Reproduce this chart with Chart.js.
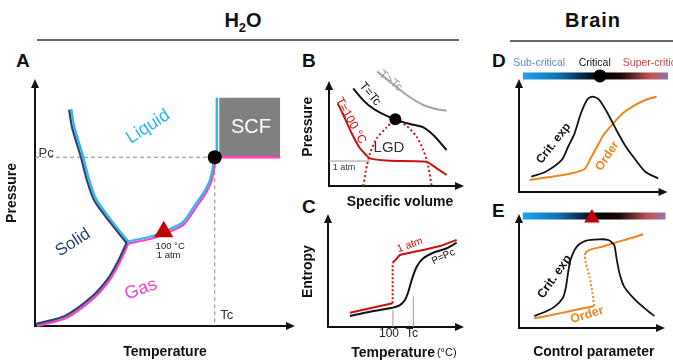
<!DOCTYPE html>
<html>
<head>
<meta charset="utf-8">
<script src="https://cdn.jsdelivr.net/npm/chart.js@4"></script>
<style>
  body { margin: 0; width: 673px; height: 363px; position: relative; overflow: hidden; background: #fff;
         font-family: Arial, "Liberation Sans", sans-serif; }
  canvas { position: absolute; }
  .head { position: absolute; font-weight: bold; font-size: 20px; line-height: 20px; text-align: center; color: #111; }
  .rule { position: absolute; height: 2px; background: #666; }
  .tag { position: absolute; font-weight: bold; font-size: 19px; line-height: 19px; color: #111; }
</style>
</head>
<body>
<div class="head" style="left:193px;top:10px;width:100px">H<sub style="font-size:13px;line-height:0">2</sub>O</div>
<div class="rule" style="left:37px;top:39px;width:422px"></div>
<div class="head" style="left:543px;top:10px;width:100px;letter-spacing:1px">Brain</div>
<div class="rule" style="left:510px;top:40px;width:163px"></div>
<div class="tag" style="left:16px;top:51px">A</div>
<div class="tag" style="left:302px;top:51px">B</div>
<div class="tag" style="left:302px;top:197px">C</div>
<div class="tag" style="left:492px;top:51px">D</div>
<div class="tag" style="left:492px;top:201px">E</div>

<canvas id="chartA" width="305" height="318" style="left:0;top:45px"></canvas>
<canvas id="chartB" width="180" height="165" style="left:290px;top:45px"></canvas>
<canvas id="chartC" width="180" height="165" style="left:290px;top:198px"></canvas>
<canvas id="chartD" width="203" height="160" style="left:470px;top:45px"></canvas>
<canvas id="chartE" width="203" height="165" style="left:470px;top:198px"></canvas>

<script>
// A: phase diagram of water (temperature / pressure, arbitrary 0..100)
var solidLiqT = [13.6, 14.7, 18.2, 20.5, 23.3, 28.9, 35.8];
var solidLiqP = [88.1, 81.0, 68.6, 59.3, 51.2, 43.0, 33.9];
var liqGasT = [35.8, 45.9, 52.2, 57.2, 62.3, 65.4, 67.9, 69.2, 69.4];
var liqGasP = [33.9, 36.3, 39.0, 41.7, 49.2, 53.9, 59.3, 66.1, 68.6];
var solidGasT = [0.6, 12.0, 22.0, 28.3, 32.1, 35.8];
var solidGasP = [0.4, 3.8, 11.3, 18.7, 25.5, 33.9];
var critT = 69.4, critP = 68.6;
var boilT = 49.7, boilP = 38.3;
var scfT = [71.1, 94.7], scfTop = 92.8, scfEdgeT = 70.2;

// B: isotherms (specific volume / pressure)
var hotV = [36.0, 45.5, 58.0, 70.4, 80.4, 87.8];
var hotP = [110.0, 100.3, 87.5, 77.9, 73.8, 72.4];
var tcV = [18.1, 23.1, 29.3, 38.1, 49.5, 60.4, 70.4, 77.8, 87.8];
var tcP = [93.9, 85.9, 77.9, 70.5, 64.1, 59.6, 56.4, 49.0, 34.6];
var boilV = [6.5, 10.7, 16.9, 23.1, 30.6, 45.5, 72.9, 80.4, 87.8];
var boilPs = [79.5, 68.3, 50.7, 36.3, 26.6, 24.3, 23.4, 17.0, 10.6];
var domeV = [25.6, 27.6, 30.6, 35.6, 43.1, 49.5, 58.0, 65.4, 70.4, 74.1, 76.6];
var domeP = [0, 15.4, 31.4, 45.8, 56.4, 63.5, 57.7, 47.4, 34.6, 18.6, 0];
var critV = 49.5, critPB = 64.1;
var atmP = 24.0, atmV = 30.6;

// C: entropy vs temperature
var atmLowT = [16.3, 31.1, 47.9];
var atmLowS = [12.8, 16.7, 21.2];
var atmJumpT = [47.9, 47.9];
var atmJumpS = [21.2, 57.4];
var atmHighT = [47.9, 50.4, 53.3, 60.7, 70.6, 83.0, 95.3];
var atmHighS = [57.4, 60.4, 64.3, 66.3, 68.8, 72.3, 77.7];
var pcT = [16.3, 31.1, 45.9, 53.3, 57.0, 59.5, 62.0, 65.7, 70.6, 78.0, 87.9, 95.3];
var pcS = [9.8, 13.7, 16.7, 19.6, 24.1, 31.5, 42.0, 53.8, 61.3, 66.3, 70.3, 75.3];
var tick100 = 48.1, tickTc = 63.2, tick100H = 15.2, tickTcH = 27.1;

// D: continuous (critical) transition
var critExpDx = [8.3, 18.1, 29.0, 33.3, 37.7, 42.0, 46.4, 49.7, 54.1, 59.5, 66.0, 72.5, 79.1, 85.6, 94.3];
var critExpD = [13.7, 18.1, 28.6, 40.4, 52.4, 70.3, 82.8, 85.1, 82.8, 71.7, 55.4, 40.4, 28.6, 18.1, 12.2];
var orderDx = [7.2, 22.4, 33.3, 44.2, 48.6, 52.9, 57.3, 63.9, 70.4, 76.9, 85.6, 93.3];
var orderD = [10.7, 13.7, 16.1, 20.3, 30.1, 40.4, 50.9, 61.3, 70.3, 76.2, 82.1, 85.1];
var critMarkD = 54.9;

// E: discontinuous transition
var critExpEx = [10.5, 18.1, 24.6, 30.1, 32.2, 33.8, 35.5, 39.9, 46.4, 55.1, 61.6, 65.6, 67.1, 69.3, 72.5, 79.1, 86.7, 93.3];
var critExpE = [10.6, 14.4, 18.9, 26.3, 35.1, 48.4, 60.2, 72.0, 77.3, 78.5, 77.9, 73.5, 63.1, 48.4, 36.6, 26.3, 17.4, 10.6];
var orderLowEx = [10.5, 22.4, 33.3, 44.2, 51.8];
var orderLowE = [8.6, 11.5, 14.4, 17.4, 19.5];
var orderJumpEx = [51.8, 50.7, 48.6, 45.9, 45.3];
var orderJumpE = [19.5, 30.7, 45.4, 58.7, 64.6];
var orderHighEx = [45.3, 46.4, 49.7, 57.3, 66.0, 76.9, 85.6];
var orderHighE = [64.6, 67.5, 69.6, 71.9, 75.5, 79.4, 82.9];
var markE = 50.3;

var navy = '#2b4474', cyan = '#2cb8ef', magenta = '#ff3fc4', red = '#cc1010', orange = '#f0841e';
var FONT = 'Arial, "Liberation Sans", sans-serif';

function pts(xs, ys) {
  return xs.map(function (x, i) { return { x: x, y: ys[i] }; });
}
function curve(xs, ys, color, width, extra) {
  return Object.assign({
    data: pts(xs, ys), borderColor: color, borderWidth: width,
    pointRadius: 0, tension: 0.25, fill: false, clip: false
  }, extra || {});
}
function marker(x, y, color, r, style) {
  return {
    data: [{ x: x, y: y }], showLine: false, clip: false, pointStyle: style || 'circle',
    pointRadius: r, pointBackgroundColor: color, pointBorderColor: color, pointBorderWidth: 0
  };
}

var deco = {
  id: 'deco',
  beforeDatasetsDraw: function (chart, args, o) {
    var ctx = chart.ctx, sx = chart.scales.x, sy = chart.scales.y, a = chart.chartArea;
    ctx.save();
    if (o.bar) {
      var x0 = sx.getPixelForValue(o.bar.from), x1 = sx.getPixelForValue(o.bar.to);
      var yy = sy.getPixelForValue(o.bar.at);
      var g = ctx.createLinearGradient(x0, 0, x1, 0);
      g.addColorStop(0, '#1ca6ee');
      g.addColorStop(0.25, '#1070b0');
      g.addColorStop(0.45, '#06182c');
      g.addColorStop(0.55, '#000');
      g.addColorStop(0.68, '#200808');
      g.addColorStop(0.88, '#c05656');
      g.addColorStop(1, '#9470a8');
      ctx.fillStyle = g;
      ctx.fillRect(x0, yy - 3.5, x1 - x0, 7);
    }
    // axes with arrow heads
    ctx.strokeStyle = '#111';
    ctx.fillStyle = '#111';
    ctx.lineWidth = 2;
    ctx.beginPath();
    ctx.moveTo(a.left, a.top + 6);
    ctx.lineTo(a.left, a.bottom);
    ctx.lineTo(a.right - 6, a.bottom);
    ctx.stroke();
    ctx.beginPath();
    ctx.moveTo(a.left, a.top - 1);
    ctx.lineTo(a.left - 4, a.top + 8);
    ctx.lineTo(a.left + 4, a.top + 8);
    ctx.closePath();
    ctx.fill();
    ctx.beginPath();
    ctx.moveTo(a.right + 1, a.bottom);
    ctx.lineTo(a.right - 8, a.bottom - 4);
    ctx.lineTo(a.right - 8, a.bottom + 4);
    ctx.closePath();
    ctx.fill();
    ctx.restore();
  },
  beforeDatasetDraw: function (chart, args) {
    var ds = chart.data.datasets[args.index];
    chart.ctx.save();
    if (ds.shift) chart.ctx.translate(ds.shift[0], ds.shift[1]);
  },
  afterDatasetDraw: function (chart) {
    chart.ctx.restore();
  },
  afterDraw: function (chart, args, o) {
    var ctx = chart.ctx, sx = chart.scales.x, sy = chart.scales.y;
    (o.texts || []).forEach(function (t) {
      ctx.save();
      ctx.translate(sx.getPixelForValue(t.x), sy.getPixelForValue(t.y));
      if (t.r) ctx.rotate(t.r * Math.PI / 180);
      ctx.font = t.f + ' ' + FONT;
      ctx.fillStyle = t.c || '#111';
      ctx.textAlign = t.a || 'center';
      ctx.textBaseline = 'middle';
      ctx.fillText(t.t, 0, 0);
      ctx.restore();
    });
  }
};

function makeChart(id, pad, datasets, opts) {
  return new Chart(document.getElementById(id), {
    type: 'line',
    data: { datasets: datasets },
    options: {
      responsive: false,
      animation: false,
      layout: { padding: pad },
      scales: {
        x: { type: 'linear', min: 0, max: 100, display: false },
        y: { type: 'linear', min: 0, max: 100, display: false }
      },
      plugins: { legend: { display: false }, tooltip: { enabled: false }, deco: opts }
    },
    plugins: [deco]
  });
}

makeChart('chartA', { left: 35, right: 5, top: 35, bottom: 37 }, [
  marker(boilT, boilP, '#c00000', 11, 'triangle'),
  marker(critT, critP, '#000', 7),
  curve([scfEdgeT, scfEdgeT], [critP, scfTop], cyan, 2.5, { tension: 0 }),
  curve([scfEdgeT, scfT[1]], [critP, critP], magenta, 2.5, { tension: 0 }),
  curve(liqGasT, liqGasP, cyan, 2.2, { shift: [-0.6, -1] }),
  curve(liqGasT, liqGasP, magenta, 2.2, { shift: [0.6, 1] }),
  curve(solidLiqT, solidLiqP, navy, 2.2, { shift: [-1.1, 0.4] }),
  curve(solidLiqT, solidLiqP, cyan, 2.2, { shift: [1.1, -0.4] }),
  curve(solidGasT, solidGasP, navy, 2.2, { shift: [-0.6, -1] }),
  curve(solidGasT, solidGasP, magenta, 2.2, { shift: [0.6, 1] }),
  curve([0, critT], [critP, critP], '#888', 1, { borderDash: [4, 3], tension: 0 }),
  curve([critT, critT], [critP, 0], '#888', 1, { borderDash: [4, 3], tension: 0 }),
  curve(scfT, [scfTop, scfTop], '#808080', 0, { fill: { target: { value: critP } }, backgroundColor: '#808080', tension: 0 })
], {
  texts: [
    { t: 'Pressure', x: -8.7, y: 54.1, r: -90, f: 'bold 14px' },
    { t: 'Temperature', x: 50.2, y: -10.6, f: 'bold 14px' },
    { t: 'Pc', x: 4.3, y: 70.3, f: '13px', c: '#333' },
    { t: 'Tc', x: 74.0, y: 4.1, f: '13px', c: '#333' },
    { t: 'Liquid', x: 43.7, y: 81.0, r: -33, f: '18px', c: cyan },
    { t: 'Solid', x: 14.7, y: 33.9, r: -33, f: '17px', c: navy },
    { t: 'Gas', x: 40.9, y: 14.9, r: -20, f: '18px', c: magenta },
    { t: 'SCF', x: 83.4, y: 80.5, f: '20px', c: '#fff' },
    { t: '100 °C', x: 52.2, y: 32.5, f: '9.5px', c: '#222' },
    { t: '1 atm', x: 51.6, y: 28.9, f: '9.5px', c: '#222' }
  ]
});

makeChart('chartB', { left: 39, right: 7, top: 37, bottom: 24 }, [
  marker(critV, critPB, '#000', 6),
  curve(hotV, hotP, '#a3a3a3', 2),
  curve(tcV, tcP, '#111', 2),
  curve(boilV, boilPs, red, 2, { tension: 0.15 }),
  curve(domeV, domeP, red, 2, { borderDash: [2, 2.5] }),
  curve([0, atmV], [atmP, atmP], '#999', 1, { tension: 0 })
], {
  texts: [
    { t: 'Pressure', x: -15.7, y: 57.0, r: -90, f: 'bold 14px' },
    { t: 'Specific volume', x: 53.0, y: -15.4, f: 'bold 14px' },
    { t: '1 atm', x: 11.2, y: 17.8, f: '9px', c: '#333' },
    { t: 'LGD', x: 44.8, y: 37.0, f: '15px', c: '#333' },
    { t: 'T>Tc', x: 46.0, y: 101.0, r: 38, f: '12px', c: '#999' },
    { t: 'T=Tc', x: 30.6, y: 88.5, r: 50, f: '12px', c: '#111' },
    { t: 'T=100 °C', x: 16.2, y: 62.8, r: 61, f: '12px', c: red }
  ]
});

makeChart('chartC', { left: 38, right: 7, top: 17, bottom: 36 }, [
  curve(atmHighT, atmHighS, red, 2, { tension: 0.1 }),
  curve(atmJumpT, atmJumpS, red, 2, { borderDash: [2, 2], tension: 0 }),
  curve(atmLowT, atmLowS, red, 2, { tension: 0 }),
  curve(pcT, pcS, '#111', 2),
  curve([tick100, tick100], [0, tick100H], '#999', 1, { tension: 0 }),
  curve([tickTc, tickTc], [0, tickTcH], '#999', 1, { tension: 0 })
], {
  texts: [
    { t: 'Entropy', x: -14.8, y: 49.4, r: -90, f: 'bold 14px' },
    { t: 'Temperature', x: 79.3, y: -23.2, f: 'bold 14px', a: 'right' },
    { t: '(°C)', x: 80.7, y: -23.2, f: '11px', a: 'left' },
    { t: '100', x: 45.2, y: -6.3, f: '12px', c: '#222' },
    { t: 'Tc', x: 62.2, y: -6.3, f: '12px', c: '#222' },
    { t: '1 atm', x: 60.7, y: 73.2, r: -20, f: '10.5px', c: red },
    { t: 'P=Pc', x: 85.4, y: 62.8, r: -25, f: '10px', c: '#111' }
  ]
});

makeChart('chartD', { left: 49, right: 1, top: 35, bottom: 13 }, [
  marker(critMarkD, 103.6, '#000', 6.5),
  curve(critExpDx, critExpD, '#111', 1.8),
  curve(orderDx, orderD, orange, 2)
], {
  bar: { from: 2.6, to: 101, at: 103.6 },
  texts: [
    { t: 'Sub-critical', x: 13.7, y: 114.7, f: '10.5px', c: '#5a8ed6' },
    { t: 'Critical', x: 51.3, y: 114.7, f: '10.5px', c: '#111' },
    { t: 'Super-critical', x: 70.4, y: 114.7, f: '10.5px', c: '#c8484c', a: 'left' },
    { t: 'Crit. exp', x: 23.5, y: 43.5, r: -52, f: 'bold 12px', c: '#111' },
    { t: 'Order', x: 59.9, y: 32.1, r: -56, f: 'bold 12px', c: orange }
  ]
});

makeChart('chartE', { left: 49, right: 1, top: 17, bottom: 35 }, [
  marker(markE, 97.3, '#c00000', 9, 'triangle'),
  curve(critExpEx, critExpE, '#111', 1.8),
  curve(orderHighEx, orderHighE, orange, 2),
  curve(orderJumpEx, orderJumpE, orange, 2, { borderDash: [2, 2] }),
  curve(orderLowEx, orderLowE, orange, 2)
], {
  bar: { from: 2.6, to: 101, at: 99.1 },
  texts: [
    { t: 'Crit. exp', x: 24.6, y: 45.4, r: -55, f: 'bold 12.5px', c: '#111' },
    { t: 'Order', x: 46.9, y: 11.5, r: -17, f: 'bold 12.5px', c: orange },
    { t: 'Control parameter', x: 51.6, y: -21.2, f: 'bold 14px', c: '#111' }
  ]
});
</script>
</body>
</html>
